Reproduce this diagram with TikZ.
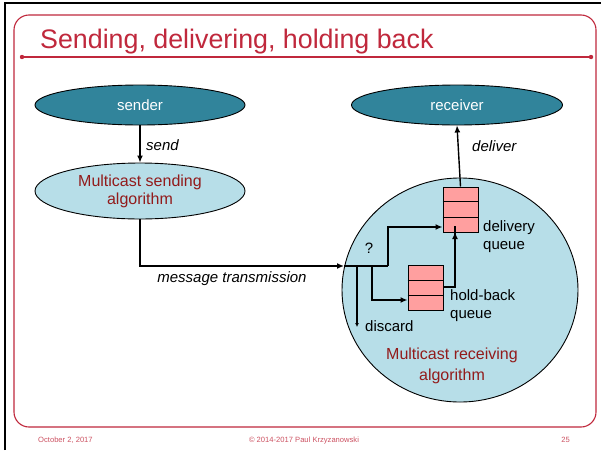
\documentclass[tikz,border=0pt]{standalone}
\usepackage{fontspec}
\setmainfont{Liberation Sans}
\usetikzlibrary{arrows.meta,shapes.geometric,calc}
\definecolor{frame}{HTML}{C0283C}
\definecolor{teal}{HTML}{31849B}
\definecolor{lblue}{HTML}{B7DEE8}
\definecolor{qpink}{HTML}{FF9F9F}
\definecolor{dred}{HTML}{921B1B}
\tikzset{
  darkell/.style={ellipse,draw=black,line width=0.9pt,fill=teal,text=white,font=\fontsize{15}{17}\selectfont},
  lightell/.style={ellipse,draw=black,line width=0.9pt,fill=lblue,text=dred,font=\fontsize{16}{18}\selectfont,align=center},
  conn/.style={line width=1.4pt,-{Latex[length=7pt,width=6pt]}},
  lbl/.style={font=\fontsize{15}{17}\selectfont,inner sep=0pt},
  ilbl/.style={font=\fontsize{15}{17}\selectfont\itshape,inner sep=0pt},
  queue/.style={draw=black,line width=1pt,fill=qpink,minimum width=35pt,minimum height=45pt,inner sep=0pt},
  foot/.style={font=\fontsize{7.6}{9}\selectfont,text=frame!80,inner sep=0pt}
}
\begin{document}
\begin{tikzpicture}[x=1pt,y=-1pt]
\useasboundingbox (0,0) rectangle (601,450);
\fill[white] (0,0) rectangle (601,450);
% screenshot border
\draw[line width=2.5pt,black] (5,450) -- (5,3) -- (601,3);
% slide frame
\draw[frame,line width=1.1pt,rounded corners=15pt] (14,15) rectangle (596,427);
\draw[frame,line width=1.3pt] (22,57) -- (591,57);
\fill[frame] (22,57) circle (2.2pt) (591,57) circle (2.2pt);
\node[anchor=base west,text=frame,font=\fontsize{26.8}{30}\selectfont,inner sep=0pt] (title) at (40,48) {Sending, delivering, holding back};
% footer
\node[foot,anchor=base west] (fdate) at (38,442) {October 2, 2017};
\node[foot,anchor=base] (fcopy) at (304,442) {© 2014-2017 Paul Krzyzanowski};
\node[foot,anchor=base east] (fpage) at (570,442) {25};

% big receiving ellipse
\node[lightell,minimum width=236pt,minimum height=224pt] (mra) at (460,290) {};
\node[text=dred,font=\fontsize{16}{18}\selectfont,align=center,inner sep=0pt] (mratext) at (452,366) {Multicast receiving\\[3pt]algorithm};

% ellipses
\node[darkell,minimum width=210pt,minimum height=40pt] (sender) at (140,105) {sender};
\node[darkell,minimum width=211pt,minimum height=40pt] (receiver) at (457,105) {receiver};
\node[lightell,minimum width=210pt,minimum height=53pt] (msa) at (140,191) {Multicast sending\\algorithm};

% queues
\node[queue] (dq) at (460.5,209.5) {};
\draw[line width=1pt] ($(dq.north west)!1/3!(dq.south west)$) -- ($(dq.north east)!1/3!(dq.south east)$);
\draw[line width=1pt] ($(dq.north west)!2/3!(dq.south west)$) -- ($(dq.north east)!2/3!(dq.south east)$);
\node[queue] (hq) at (425.5,288) {};
\draw[line width=1pt] ($(hq.north west)!1/3!(hq.south west)$) -- ($(hq.north east)!1/3!(hq.south east)$);
\draw[line width=1pt] ($(hq.north west)!2/3!(hq.south west)$) -- ($(hq.north east)!2/3!(hq.south east)$);

% coordinates
\coordinate (jin) at (344,266);
\coordinate (jd) at (357,266);
\coordinate (jh) at (372,266);
\coordinate (ju) at (388,266);
\coordinate (dend) at (357,327);

% connectors
\draw[conn] (sender.south) -- (msa.north);
\node[ilbl,anchor=west] (send) at (146,145) {send};
\draw[conn] (msa.south) |- (jin);
\node[ilbl] (mt) at (232,279) {message transmission};
\draw[line width=1.4pt] (jin) -- (ju);
\draw[conn] (ju) |- (dq.west |- 0,227);
\draw[line width=1.4pt,-{Latex[length=4pt,width=4pt]}] (jd) -- (dend);
\draw[conn] (jh) |- (hq.west |- 0,300);
\draw[conn] (hq.east |- 0,287) -| (455,232) -- (455,232);
\draw[conn] (dq.north) -- (receiver.south);
\node[ilbl,anchor=west] (deliver) at (472,146) {deliver};
\node[lbl] (q) at (369,248) {?};
\node[lbl,anchor=north west,align=left] (dql) at (483,220) {delivery\\[1pt]queue};
\node[lbl,anchor=north west,align=left] (hql) at (450,289) {hold-back\\[1pt]queue};
\node[lbl,anchor=west] (disc) at (365,326) {discard};
\end{tikzpicture}
\end{document}
